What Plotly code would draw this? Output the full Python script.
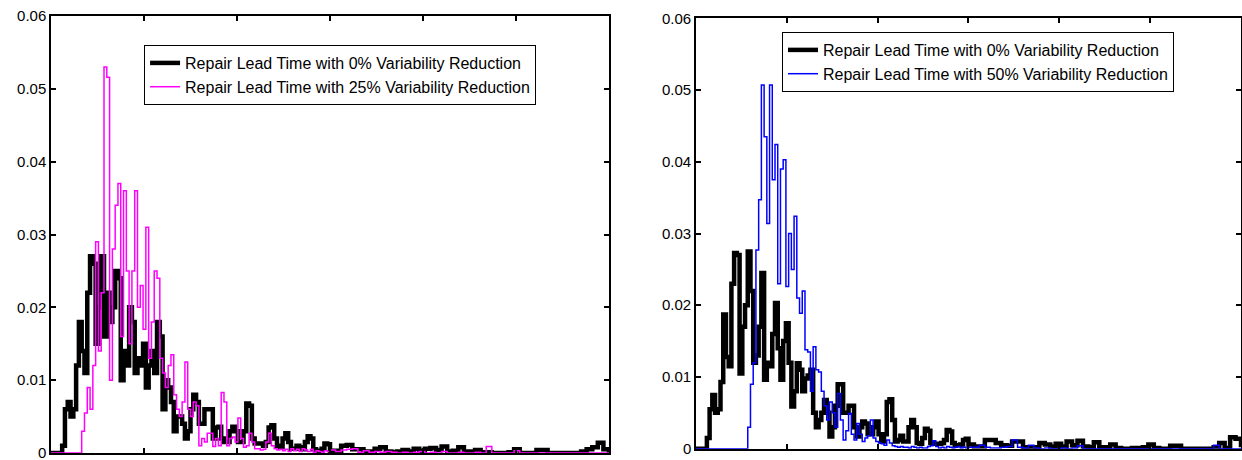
import numpy as np
import plotly.graph_objects as go

# bin positions (repair lead time units); dense region then tail
x_main = list(range(0, 301, 3))
x_tail = list(range(306, 601, 6))

# ---- left panel: 0% vs 25% ----
black_l_main = [
    0, 0, 0, 0, 0.001, 0.006, 0.007, 0.005, 0.006, 0.012,
    0.018, 0.014, 0.011, 0.022, 0.027, 0.026, 0.015, 0.02, 0.027, 0.016,
    0.022, 0.018, 0.02, 0.025, 0.024, 0.01, 0.014, 0.012, 0.02, 0.018,
    0.011, 0.013, 0.012, 0.015, 0.009, 0.012, 0.014, 0.011, 0.018, 0.016,
    0.006, 0.01, 0.009, 0.007, 0.003, 0.005, 0.005, 0.004, 0.002, 0.003,
    0.006, 0.008, 0.007, 0.004, 0.004, 0.006, 0.006, 0.006, 0.002, 0.0035,
    0.0036, 0.002, 0.0015, 0.0015, 0.003, 0.0036, 0.003, 0.0015, 0.0015, 0.003,
    0.0068, 0.0065, 0.002, 0.0013, 0.0013, 0.0013, 0.001, 0.0015, 0.0035, 0.0038,
    0.002, 0.001, 0.0008, 0.002, 0.0027, 0.0015, 0.0006, 0.0006, 0.001, 0.0008,
    0.0005, 0.0015, 0.0023, 0.002, 0.0005, 0.0003, 0.0003, 0.0006, 0.0013, 0.0012,
    0.0003,
]
black_l_tail = [
    0.0003, 0.001, 0.0011, 0.0005, 0.0005, 0.0002, 0.0002, 0.0006, 0.0008, 0.0002,
    0.0001, 0.0002, 0.0004, 0.0002, 0.0006, 0.0003, 0.0006, 0.0007, 0.0004, 0.0009,
    0.0002, 0.0003, 0.0008, 0.0002, 0.0002, 0.0004, 0.0001, 0.0001, 0, 0,
    0, 0.0001, 0.0005, 0, 0, 0, 0.0004, 0.0004, 0, 0,
    0, 0, 0, 0, 0.0002, 0.0005, 0.0008, 0.0014, 0.0005, 0,
]
magenta_main = [
    0, 0, 0, 0, 0, 0, 0, 0, 0, 0,
    0, 0.003, 0.0055, 0.009, 0.006, 0.012, 0.029, 0.014, 0.022, 0.053,
    0.0516, 0.010, 0.028, 0.034, 0.037, 0.016, 0.036, 0.025, 0.015, 0.025,
    0.036, 0.02, 0.023, 0.017, 0.031, 0.013, 0.018, 0.025, 0.024, 0.013,
    0.011, 0.009, 0.012, 0.0135, 0.008, 0.006, 0.005, 0.007, 0.0125, 0.006,
    0.005, 0.007, 0.0065, 0.001, 0.002, 0.0015, 0.0027, 0.0027, 0.0009, 0.002,
    0.001, 0.0083, 0.007, 0.001, 0.002, 0.0022, 0.0015, 0.0048, 0.002, 0.0008,
    0.001, 0.0027, 0.0015, 0.0006, 0.0006, 0.0004, 0.0005, 0.0015, 0.0027, 0.001,
    0.0006, 0.0004, 0.0005, 0.0003, 0.0005, 0.0002, 0.0006, 0.0003, 0.0005, 0.0002,
    0.0006, 0.0004, 0.0002, 0.0005, 0.0001, 0.0003, 0.0002, 0.0001, 0.0003, 0.0002,
    0.0004,
]
magenta_tail = [
    0.0002, 0.0004, 0.0005, 0.0006, 0.0001, 0.0003, 0.0001, 0.0002, 0.0001, 0.0002,
    0.0001, 0, 0.0001, 0, 0.0001, 0.0002, 0, 0.0001, 0, 0.0002,
    0, 0, 0.0001, 0, 0, 0.0001, 0, 0.0009, 0, 0,
    0, 0, 0.0003, 0, 0, 0, 0, 0, 0, 0,
    0, 0, 0, 0, 0, 0, 0, 0, 0, 0,
]

# ---- right panel: 0% vs 50% ----
black_r_main = [
    0, 0, 0, 0, 0.0015, 0.0055, 0.0075, 0.005, 0.0055, 0.0093,
    0.0187, 0.0128, 0.0115, 0.023, 0.0273, 0.027, 0.0105, 0.017, 0.02, 0.0275,
    0.022, 0.012, 0.013, 0.017, 0.0245, 0.0096, 0.012, 0.0115, 0.016, 0.0203,
    0.014, 0.0096, 0.015, 0.0175, 0.012, 0.0059, 0.008, 0.0119, 0.011, 0.008,
    0.0098, 0.0102, 0.011, 0.005, 0.003, 0.004, 0.005, 0.0068, 0.005, 0.0017,
    0.003, 0.006, 0.009, 0.009, 0.005, 0.005, 0.006, 0.006, 0.003, 0.0017,
    0.003, 0.0038, 0.0035, 0.002, 0.002, 0.003, 0.0038, 0.002, 0.001, 0.002,
    0.0065, 0.0069, 0.004, 0.001, 0.0012, 0.0018, 0.001, 0.001, 0.003, 0.004,
    0.003, 0.0008, 0.0007, 0.0015, 0.0028, 0.0025, 0.0008, 0.0007, 0.0007, 0.0007,
    0.0008, 0.0012, 0.0026, 0.0024, 0.0008, 0.0005, 0.0005, 0.0006, 0.0012, 0.0014,
    0.0006,
]
black_r_tail = [
    0.0003, 0.0003, 0.0012, 0.0012, 0.0008, 0.0005, 0.0004, 0.001, 0.001, 0.0002,
    0.0002, 0.0002, 0.0008, 0.0006, 0.0003, 0.0007, 0.0003, 0.001, 0.0005, 0.0011,
    0.0003, 0.0002, 0.0009, 0.0002, 0.0002, 0.0006, 0.0001, 0, 0, 0.0001,
    0.0001, 0.0002, 0.0006, 0.0001, 0, 0, 0.0004, 0.0004, 0, 0,
    0, 0, 0, 0, 0.0002, 0.0008, 0.0001, 0.0016, 0.0014, 0.0002,
]
blue_main = [
    0, 0, 0, 0, 0, 0, 0, 0, 0, 0,
    0, 0, 0, 0, 0, 0, 0, 0, 0, 0.003,
    0.009, 0.012, 0.0277, 0.0347, 0.0507, 0.0435, 0.0314, 0.0507, 0.0375, 0.0424,
    0.023, 0.039, 0.0403, 0.0226, 0.03, 0.025, 0.0324, 0.021, 0.0189, 0.022,
    0.0138, 0.0135, 0.008, 0.0142, 0.011, 0.0107, 0.008, 0.006, 0.004, 0.0065,
    0.005, 0.003, 0.0077, 0.004, 0.0012, 0.0025, 0.0049, 0.002, 0.0012, 0.0035,
    0.002, 0.001, 0.0015, 0.0018, 0.004, 0.0015, 0.001, 0.0008, 0.0007, 0.0005,
    0.0012, 0.0008, 0.0004, 0.0003, 0.0002, 0.0003, 0.0002, 0.0002, 0.0001, 0.0003,
    0.0002, 0.0001, 0.0002, 0.0001, 0.0001, 0.0003, 0.0004, 0.0011, 0.0003, 0.0001,
    0.0002, 0.0001, 0.0003, 0.0002, 0.0001, 0.0002, 0.0003, 0.0001, 0.0002, 0.0001,
    0.0002,
]
blue_tail = [
    0.0002, 0.0005, 0.0002, 0.0001, 0.0001, 0.0002, 0.0003, 0.0012, 0.0002, 0.0001,
    0.0005, 0.0001, 0, 0.0001, 0, 0, 0.0001, 0, 0.0001, 0.0004,
    0, 0, 0, 0, 0, 0, 0, 0, 0, 0,
    0, 0, 0, 0, 0, 0, 0, 0, 0, 0,
    0, 0, 0, 0, 0.0005, 0, 0, 0, 0, 0,
]

y_ticks = [0, 0.01, 0.02, 0.03, 0.04, 0.05, 0.06]
y_tick_text = ["0", "0.01", "0.02", "0.03", "0.04", "0.05", "0.06"]
x_ticks = [0, 100, 200, 300, 400, 500, 600]

name0 = "Repair Lead Time with 0% Variability Reduction"
name25 = "Repair Lead Time with 25% Variability Reduction"
name50 = "Repair Lead Time with 50% Variability Reduction"

xs = x_main + x_tail
FONT = "Liberation Sans, Arial, Helvetica, sans-serif"

fig = go.Figure()
fig.add_trace(go.Scatter(x=xs, y=black_l_main + black_l_tail, mode="lines", name=name0,
                         line=dict(color="black", width=4.5, shape="hv"),
                         xaxis="x", yaxis="y", legend="legend"))
fig.add_trace(go.Scatter(x=xs, y=magenta_main + magenta_tail, mode="lines", name=name25,
                         line=dict(color="#FF00FF", width=1.5, shape="hv"),
                         xaxis="x", yaxis="y", legend="legend"))
fig.add_trace(go.Scatter(x=xs, y=black_r_main + black_r_tail, mode="lines", name=name0,
                         line=dict(color="black", width=4.5, shape="hv"),
                         xaxis="x2", yaxis="y2", legend="legend2"))
fig.add_trace(go.Scatter(x=xs, y=blue_main + blue_tail, mode="lines", name=name50,
                         line=dict(color="#0000FF", width=1.5, shape="hv"),
                         xaxis="x2", yaxis="y2", legend="legend2"))

axis_common = dict(showline=True, linecolor="black", linewidth=1.5, mirror="ticks",
                   ticks="inside", ticklen=5, tickwidth=1.5, tickcolor="black",
                   showgrid=False, zeroline=False)
xcommon = dict(axis_common, range=[0, 600], tickvals=x_ticks, showticklabels=False)
ycommon = dict(axis_common, range=[0, 0.06], tickvals=y_ticks, ticktext=y_tick_text,
               ticklabeloverflow="allow",
               tickfont=dict(family=FONT, size=15, color="black"))

legend_common = dict(bgcolor="white", bordercolor="black", borderwidth=1,
                     font=dict(family=FONT, size=16, color="black"),
                     xanchor="left", yanchor="top", tracegroupgap=0)

fig.update_layout(
    template="none",
    width=1242, height=460,
    margin=dict(l=51, r=1, t=16, b=7),
    paper_bgcolor="white", plot_bgcolor="white",
    showlegend=True,
    xaxis=dict(xcommon, domain=[0, 0.4689], anchor="y"),
    yaxis=dict(ycommon, domain=[0, 1], anchor="x"),
    xaxis2=dict(xcommon, domain=[0.542, 1.0], anchor="y2"),
    yaxis2=dict(ycommon, domain=[0.0098, 0.9947], anchor="x2"),
    legend=dict(legend_common, x=0.0782, y=0.9336),
    legend2=dict(legend_common, x=0.6143, y=0.9634),
)

fig.write_html("out.html",
               config={"displayModeBar": False},
               post_script="document.body.style.margin='0';document.body.style.overflow='hidden';")
